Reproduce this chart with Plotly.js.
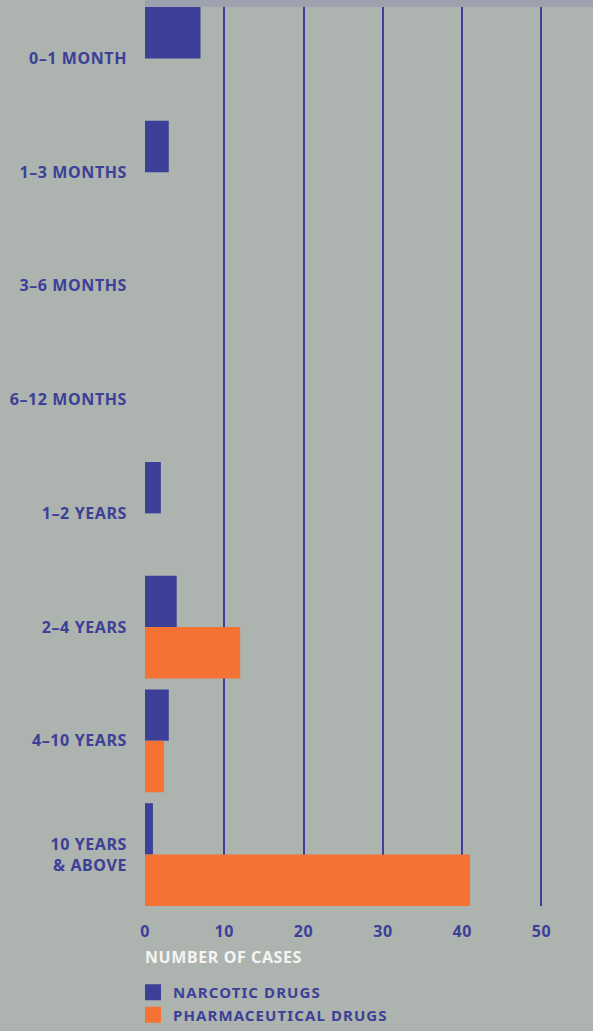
<!DOCTYPE html>
<html>
<head>
<meta charset="utf-8">
<script src="https://cdn.plot.ly/plotly-3.0.1.min.js"></script>
<style>
  html, body { margin: 0; padding: 0; background: #adb3ae; }
  #chart { width: 593px; height: 1031px; }
  text { letter-spacing: 0.6px; }
  text.legendtext { letter-spacing: 1.1px; }
</style>
</head>
<body>
<div id="chart"></div>
<script>
// Categories (top to bottom)
const categories = [
  "0–1 MONTH",
  "1–3 MONTHS",
  "3–6 MONTHS",
  "6–12 MONTHS",
  "1–2 YEARS",
  "2–4 YEARS",
  "4–10 YEARS",
  "10 YEARS<br>& ABOVE"
];
// Number of cases
const narcoticDrugs = [7, 3, 0, 0, 2, 4, 3, 1];
const pharmaceuticalDrugs = [0, 0, 0, 0, 0, 12, 2.4, 41];
// Axis ticks
const xTickVals = [0, 10, 20, 30, 40, 50];
const xTickText = ["0", "10", "20", "30", "40", "50"];
const seriesNames = ["NARCOTIC DRUGS", "PHARMACEUTICAL DRUGS"];

const NAVY = "#3c4098";
const ORANGE = "#f47234";
const BG = "#adb3ae";
const FONT = "Noto Sans, DejaVu Sans, sans-serif";

const traces = [
  {
    type: "bar", orientation: "h", name: seriesNames[0],
    y: categories, x: narcoticDrugs,
    marker: { color: NAVY, line: { width: 0 } },
    showlegend: false, legendgroup: "n"
  },
  {
    type: "bar", orientation: "h", name: seriesNames[1],
    y: categories, x: pharmaceuticalDrugs,
    marker: { color: ORANGE, line: { width: 0 } },
    showlegend: false, legendgroup: "p"
  },
  // legend entries (square swatches)
  {
    type: "scatter", mode: "markers", name: seriesNames[0],
    x: [null], y: [null], legendgroup: "n",
    marker: { symbol: "square", size: 16, color: NAVY, line: { width: 0 } }
  },
  {
    type: "scatter", mode: "markers", name: seriesNames[1],
    x: [null], y: [null], legendgroup: "p",
    marker: { symbol: "square", size: 16, color: ORANGE, line: { width: 0 } }
  }
];

const gap = 0.0965;
const layout = {
  width: 593,
  height: 1031,
  margin: { l: 145, r: 0, t: 7, b: 125, pad: 0 },
  paper_bgcolor: BG,
  plot_bgcolor: BG,
  barmode: "group",
  bargap: gap,
  bargroupgap: 0,
  font: { family: FONT, color: NAVY, size: 16, weight: 700 },
  xaxis: {
    range: [0, 56.5],
    tickvals: xTickVals,
    ticktext: xTickText,
    showgrid: true,
    gridcolor: NAVY,
    gridwidth: 2,
    zeroline: true,
    zerolinecolor: BG,
    zerolinewidth: 3,
    showline: false,
    ticks: "",
    ticklabelstandoff: 14,
    tickfont: { family: FONT, size: 16, color: NAVY, weight: 700 },
    fixedrange: true
  },
  yaxis: {
    type: "category",
    categoryorder: "array",
    categoryarray: categories,
    range: [7 + (1 - gap) / 2, -(1 - gap) / 2],
    showgrid: false,
    zeroline: false,
    showline: false,
    ticks: "",
    ticklabelstandoff: 17,
    tickfont: { family: FONT, size: 16, color: NAVY, weight: 700 },
    fixedrange: true
  },
  legend: {
    x: -0.0268, xanchor: "left",
    y: -0.078, yanchor: "top",
    orientation: "v",
    bgcolor: "rgba(0,0,0,0)",
    borderwidth: 0,
    font: { family: FONT, size: 15, color: NAVY, weight: 700 },
    traceorder: "normal"
  },
  annotations: [
    {
      text: "NUMBER OF CASES",
      xref: "paper", yref: "paper",
      x: 0, xanchor: "left", xshift: -2.5,
      y: -0.0572, yanchor: "middle",
      showarrow: false,
      font: { family: FONT, size: 16, color: "#f4f4f2", weight: 700 }
    }
  ],
  shapes: [
    {
      type: "rect", xref: "paper", yref: "paper",
      x0: 0, x1: 1, y0: 1, y1: 1 + 7 / 899,
      fillcolor: "#9ea2ae", line: { width: 0 }, layer: "above"
    }
  ]
};

Plotly.newPlot("chart", traces, layout, { displayModeBar: false, staticPlot: true });
</script>
</body>
</html>
